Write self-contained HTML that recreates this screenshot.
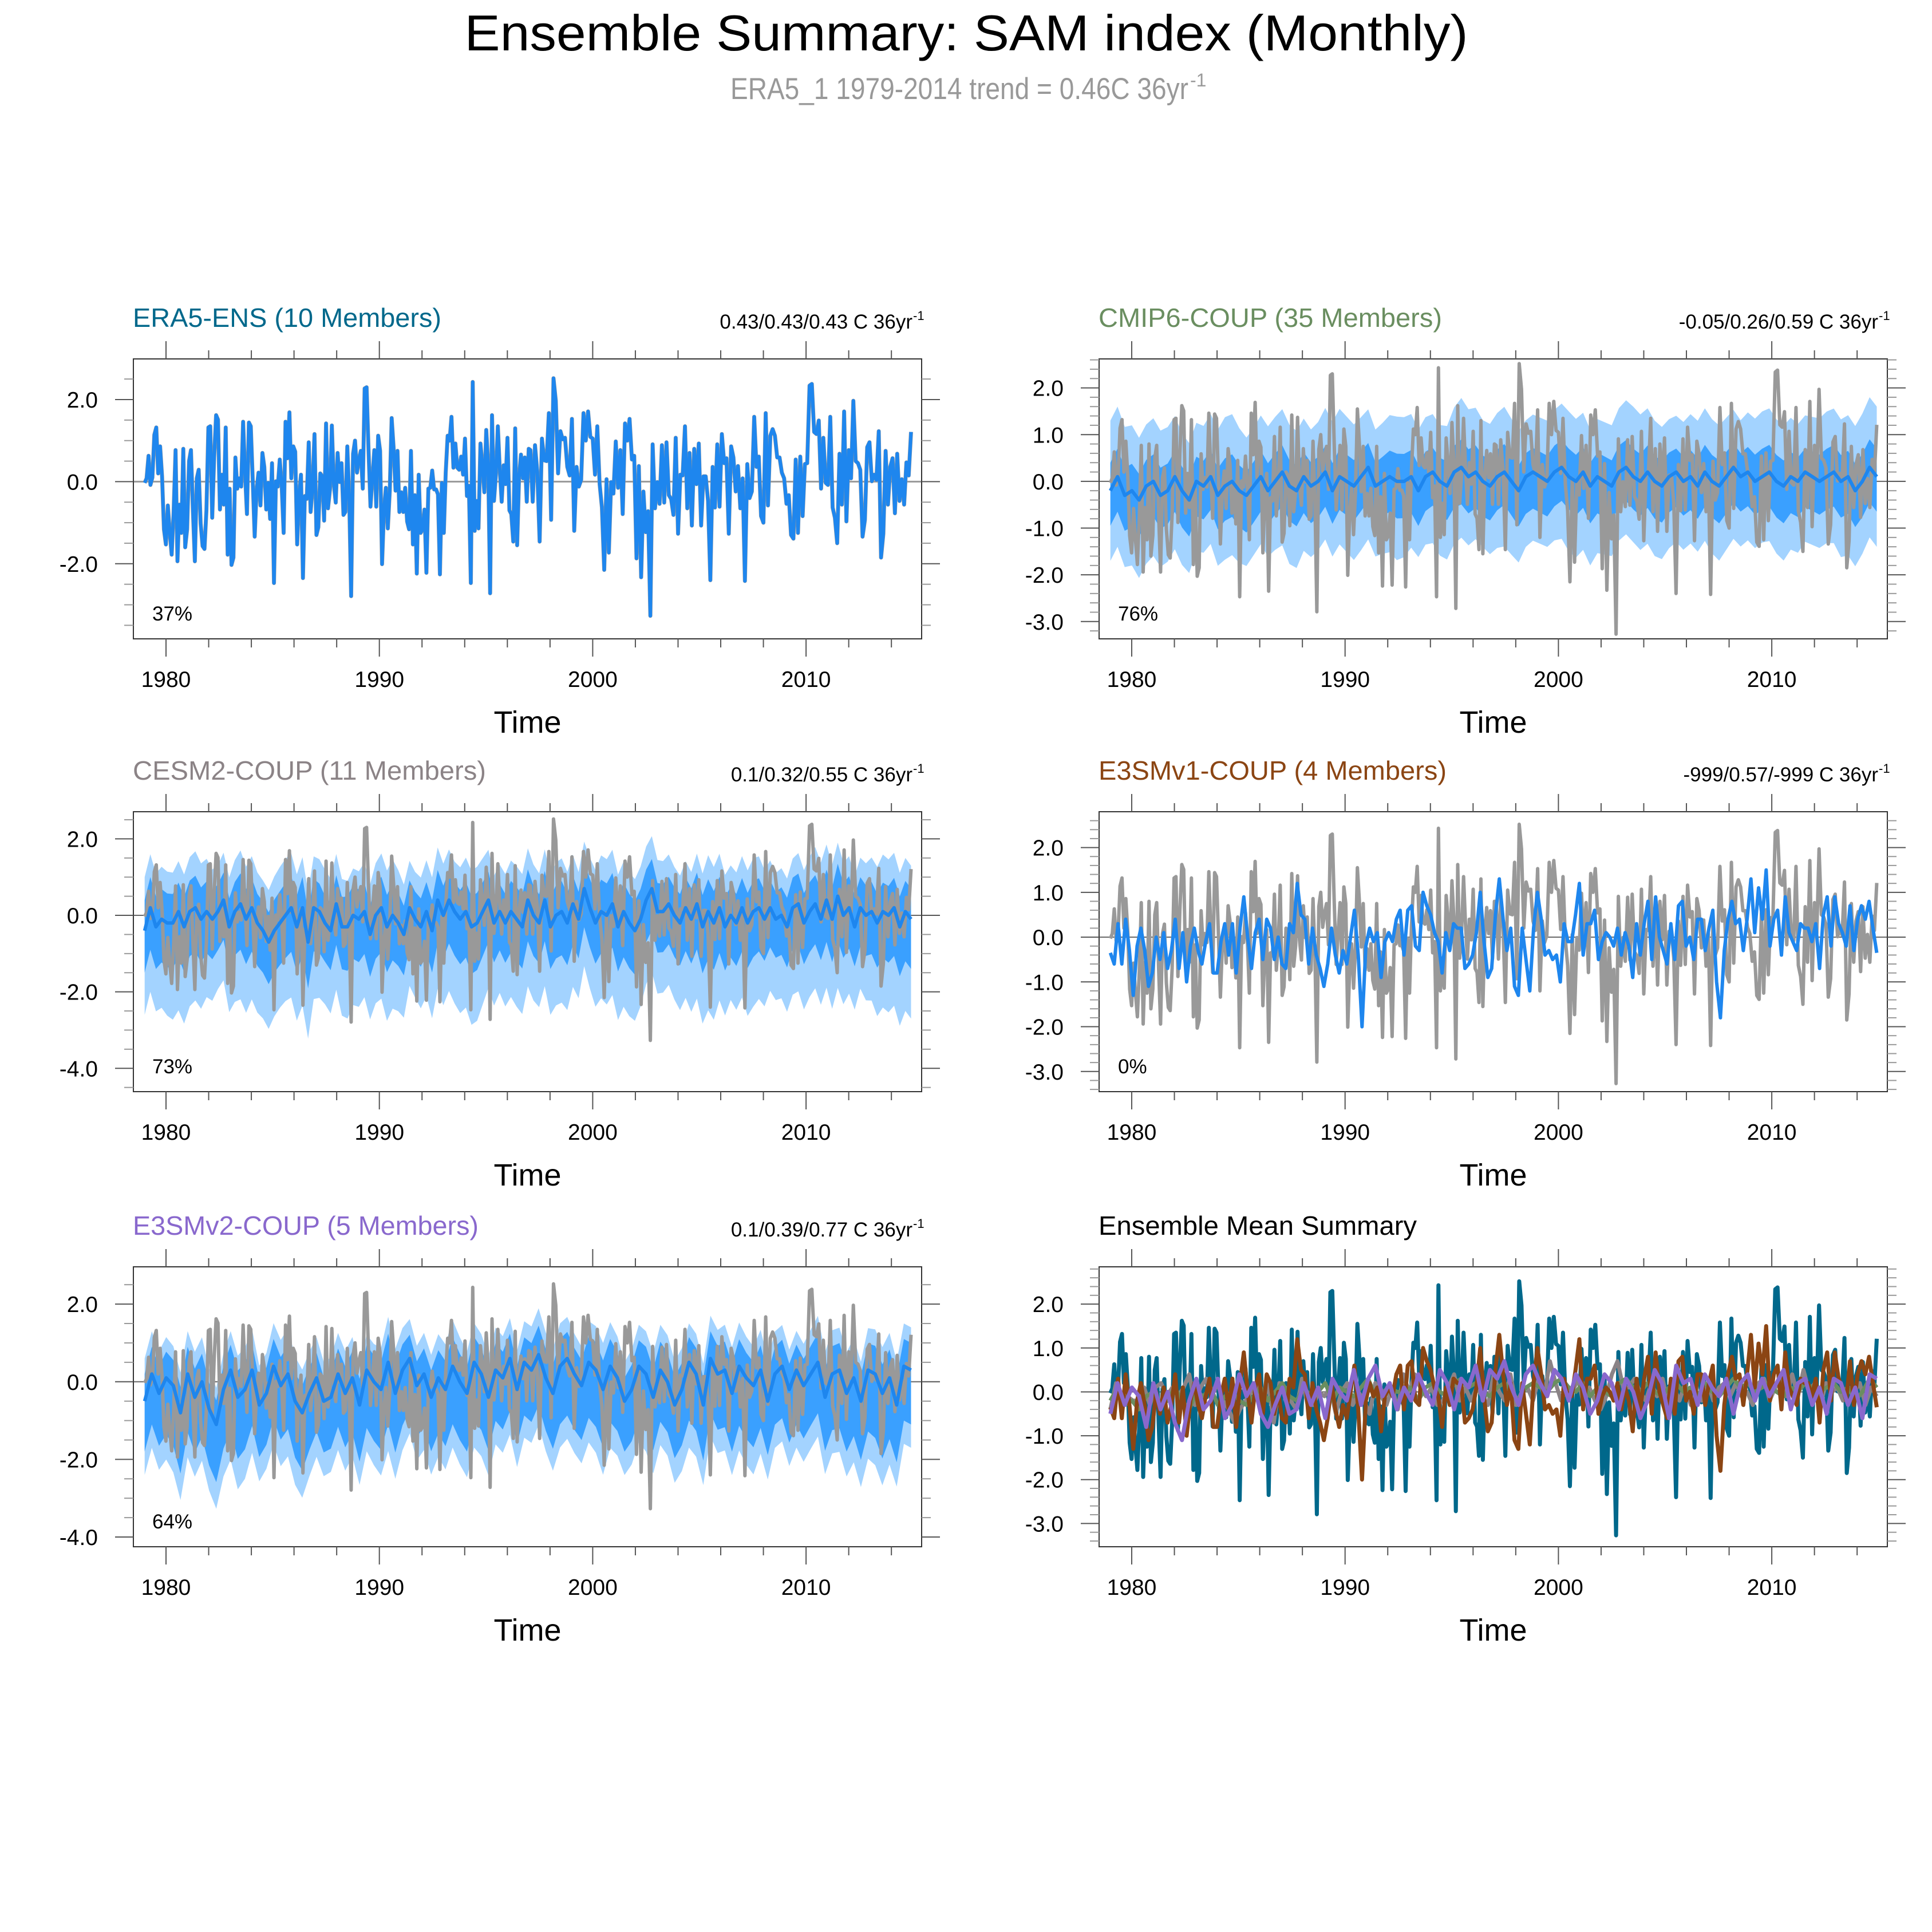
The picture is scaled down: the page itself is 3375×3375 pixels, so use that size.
<!DOCTYPE html>
<html><head><meta charset="utf-8"><title>Ensemble Summary: SAM index (Monthly)</title>
<style>html,body{margin:0;padding:0;background:#fff}svg{display:block}text{font-family:"Liberation Sans",Arial,sans-serif}</style>
</head><body>
<svg id="fig" xmlns="http://www.w3.org/2000/svg" width="3375" height="3375" viewBox="0 0 3375 3375">
<rect width="3375" height="3375" fill="#fff"/>
<text x="1688" y="88" font-size="88" text-anchor="middle" textLength="1753" lengthAdjust="spacingAndGlyphs">Ensemble Summary: SAM index (Monthly)</text>
<text x="1276" y="173" font-size="53" fill="#999" textLength="800" lengthAdjust="spacingAndGlyphs">ERA5_1 1979-2014 trend = 0.46C 36yr</text>
<text x="2079" y="151" font-size="32" fill="#999">-1</text>
</svg>
<script>
// ERA5 monthly SAM index, first part 1979.0-1997.0
const era5A = [-0.03,0.08,0.63,-0.08,0.1,1.14,1.32,0.2,0.86,0.13,-1.16,-1.53,-0.58,-1.25,-1.78,-0.74,0.77,-1.94,-0.56,-1.25,0.8,-1.6,-1.16,0.5,0.77,-0.7,-1.94,0.08,0.29,-1.02,-1.57,-1.64,-0.7,1.32,1.35,-0.88,0.59,1.62,1.51,-0.68,0.17,-0.56,1.32,-1.78,-0.17,-2.03,-1.85,0.59,-0.17,0.08,-0.12,1.46,0.22,-0.79,1.44,1.35,0.04,-1.34,-0.19,0.22,-0.58,0.7,0.36,-0.68,-0.03,-0.91,0.45,-2.47,0.01,-0.12,0.54,-0.1,-1.25,1.46,0.57,1.69,0.08,0.86,0.73,-1.53,-0.33,0.17,-2.35,-0.35,-0.42,0.96,-0.74,-0.15,1.16,-1.3,-1.11,0.2,0.13,-0.95,1.42,-0.65,-0.19,1.37,-0.06,-0.51,0.7,-0.01,0.45,-0.81,-0.74,0.86,-0.42,-2.79,0.68,1.0,0.22,0.54,0.75,-0.17,2.27,2.3,0.77,-0.61,0.08,0.77,-0.61,1.12,0.75,-2.01,-0.68,-0.15,-1.14,-0.22,1.55,0.82,-0.22,0.75,-0.74,-0.26,-0.74,-0.15,-0.97,-1.16,0.75,-1.53,-0.33,-2.24,0.17,-1.25,-1.16,-0.68,-2.22,-0.17,-0.15,0.27,-0.19,-0.19,-0.31,-2.26,-0.03,-1.25,0.22,1.12,1.0,1.58,0.34,0.93,0.34,0.29,0.61,0.17,1.05,-0.35,-0.1,-2.47,2.43,-1.2,-0.47,-1.14,0.93,0.4,-0.26,1.26,0.4,-2.72,1.62,-0.47,0.17,1.35,0.31,-0.49,0.4,-0.06,1.07,-0.7,-0.79,-1.46,1.3,-1.55,0.08,0.66,0.08,0.59,-0.49,0.8];
// ERA5 monthly SAM index, second part 1997.1-2014.9
const era5B = [0.77,-0.49,0.89,0.22,-1.46,1.05,0.52,0.5,1.67,-0.93,2.52,1.97,0.2,1.23,1.03,1.07,0.36,0.15,1.53,-1.2,0.36,-0.12,0.04,1.67,1.0,1.71,1.09,1.05,0.17,1.35,-0.06,-0.63,-2.15,0.06,-1.73,-0.01,-0.29,0.98,-0.15,0.77,-0.79,1.42,1.0,1.53,0.54,0.63,-1.87,0.38,-2.33,-0.24,-1.23,-0.72,-3.27,0.91,-0.65,-0.01,-0.54,0.89,-0.51,0.96,-0.33,-0.42,-0.81,1.07,-1.27,0.17,0.15,1.35,-0.65,0.7,-1.07,0.8,-0.06,0.93,-1.07,0.13,0.13,-0.47,-2.4,0.36,-0.63,0.91,-0.61,1.16,0.45,0.57,-1.27,0.86,0.59,-0.24,0.38,-0.65,0.08,-2.42,0.43,-0.4,-0.24,1.58,0.36,0.61,-0.84,-1.0,1.67,-0.58,1.12,1.28,1.12,0.59,0.59,0.22,0.08,-0.54,-0.33,-1.3,-1.39,0.54,-1.25,0.61,-0.84,0.43,0.45,2.34,2.38,1.21,1.16,1.49,-0.17,1.07,-0.03,-0.08,1.58,-0.63,-0.88,-1.5,0.68,-0.56,1.71,-0.97,0.77,0.08,1.97,0.5,0.45,0.29,-1.34,-0.93,0.84,0.96,0.01,0.17,0.04,1.23,-1.85,-1.27,0.75,-0.56,0.36,0.57,-0.77,0.68,-0.47,0.06,-0.56,0.47,0.15,1.21];
// CMIP6 ensemble mean (every ~4 months)
const cmip6Mean = [-0.2,0.1,-0.3,-0.2,-0.4,-0.1,0.0,-0.3,-0.2,0.1,-0.2,-0.4,0.0,-0.1,0.1,-0.3,-0.1,0.0,-0.2,-0.3,-0.1,0.1,-0.2,0.0,0.2,-0.1,-0.2,0.1,-0.1,0.0,0.2,-0.2,0.1,0.0,-0.1,0.1,0.3,-0.1,0.0,0.1,0.0,0.0,0.1,-0.2,0.1,0.2,0.0,-0.1,0.2,0.3,0.1,0.2,0.0,-0.1,0.1,0.2,0.0,-0.2,0.1,0.2,0.1,0.0,0.2,0.3,0.1,0.0,0.2,-0.1,0.1,0.0,-0.1,0.2,0.3,0.1,0.0,0.2,0.0,-0.1,0.1,0.2,0.0,0.1,-0.1,0.2,0.0,-0.1,0.1,0.3,0.1,0.2,0.0,0.1,0.2,0.0,-0.1,0.1,0.0,0.2,0.1,0.0,0.1,0.2,0.0,0.1,-0.2,0.0,0.3,0.1];
// CESM2 ensemble mean
const cesm2Mean = [-0.4,0.2,-0.3,-0.1,-0.2,-0.2,0.1,-0.3,0.1,0.2,-0.1,0.1,-0.1,0.1,0.4,-0.3,0.1,0.3,-0.1,0.2,-0.2,-0.4,-0.7,-0.4,-0.2,0.0,0.2,-0.3,0.2,-0.7,0.2,0.1,-0.2,-0.4,0.3,-0.3,-0.3,0.0,-0.1,0.1,-0.5,0.0,0.2,-0.3,0.0,-0.2,-0.5,0.2,-0.1,-0.3,0.1,-0.4,0.4,0.0,0.4,0.1,-0.1,0.1,-0.3,-0.2,0.1,0.4,-0.2,0.1,-0.2,0.1,-0.1,-0.3,0.4,0.0,-0.2,0.4,-0.3,0.0,0.1,-0.2,0.3,-0.1,0.7,0.2,-0.2,0.1,0.0,0.3,-0.3,0.1,-0.2,-0.4,-0.1,0.4,0.7,0.1,0.1,0.3,0.0,-0.2,0.2,-0.1,0.3,-0.3,0.1,-0.2,0.2,-0.3,0.0,-0.2,0.2,-0.2,0.1,0.2,-0.1,0.2,-0.1,0.0,-0.3,0.2,0.3,-0.2,0.1,0.3,-0.1,0.4,-0.1,0.5,0.0,0.2,-0.3,0.2,0.0,0.1,-0.2,0.1,0.0,0.2,-0.3,0.1,-0.1];
// E3SMv1 ensemble mean (~2 months)
const e3smv1Mean = [-0.35,-0.6,0.3,-0.6,0.4,-0.3,-1.3,-0.2,0.2,-0.3,-1.1,-0.8,0.0,-0.5,0.1,-0.7,-0.3,0.4,-0.7,0.1,-1.0,-0.2,0.2,-0.3,-0.6,-0.1,0.3,-0.8,-0.8,-0.1,0.3,-0.4,0.3,-0.8,0.2,0.9,0.0,-0.7,0.1,0.4,-0.5,0.4,0.2,-0.5,0.0,-0.6,-0.7,0.3,0.1,1.2,0.5,0.4,-0.6,0.2,-0.4,-0.7,-1.1,-0.6,0.2,-0.4,-0.8,-0.3,-0.6,0.0,0.6,-0.4,-2.0,-0.2,0.2,-0.1,0.1,-0.9,-0.1,0.1,-0.1,0.4,0.6,-0.4,0.6,0.7,-0.2,-0.3,1.0,0.7,0.5,0.1,-0.1,-0.8,0.1,-0.3,0.3,0.2,0.2,-0.7,-0.6,-0.4,0.1,1.0,-0.1,-0.9,-0.7,0.5,1.3,0.4,-0.3,0.2,-1.1,-1.3,0.2,-0.5,-1.2,0.2,1.0,0.4,-0.4,-0.3,-0.5,-0.4,-1.0,0.3,-0.1,-0.1,0.5,1.2,-0.4,0.3,0.3,0.6,-0.5,-0.1,0.1,0.0,-0.2,0.2,-0.4,0.1,-0.2,-0.9,0.3,-0.4,0.3,0.8,-0.5,0.9,0.0,-0.3,-0.6,0.3,-0.5,0.7,0.8,-0.2,0.0,-0.5,0.4,0.4,-0.3,0.2,0.6,-1.0,-1.8,-0.3,0.4,0.8,0.3,0.4,-0.3,0.4,1.3,0.1,1.1,0.4,1.5,-0.2,0.4,0.6,-0.4,0.9,0.1,-0.1,-0.3,0.3,0.2,0.2,-0.1,0.3,-0.7,0.5,0.9,-0.2,0.9,0.3,0.1,-0.2,0.7,-0.3,0.4,0.7,0.4,0.8,0.2,-0.35];
// E3SMv2 ensemble mean
const e3smv2Mean = [-0.5,0.2,-0.3,0.1,-0.1,-0.8,0.2,-0.4,0.0,-0.7,-1.1,-0.2,0.3,-0.4,-0.2,0.3,-0.6,-0.3,0.4,-0.1,0.2,-0.5,-0.8,-0.3,0.1,-0.5,-0.4,0.2,-0.3,0.1,-0.6,0.3,0.0,-0.2,0.5,-0.3,0.3,0.6,-0.1,0.2,-0.4,0.1,-0.2,0.4,0.0,-0.3,0.5,0.2,-0.4,0.3,0.1,0.6,-0.2,0.5,0.3,0.7,0.1,-0.3,0.4,0.6,0.2,-0.1,0.5,0.3,-0.2,0.4,0.1,-0.5,-0.2,0.4,0.2,-0.4,0.3,0.0,-0.6,-0.2,0.5,0.2,-0.6,0.6,0.2,0.3,-0.3,0.4,0.1,-0.1,0.3,-0.5,0.2,0.4,-0.2,0.3,-0.1,0.2,0.5,-0.4,0.2,0.3,-0.3,0.1,-0.5,0.3,0.2,-0.3,0.1,-0.6,0.4,0.3];
// Ensemble spread offsets from the mean (yearly, 1979-2014)
const cmip6OuterUp = [1.5,1.3,1.4,1.2,1.3,1.5,1.2,1.4,1.3,1.2,1.5,1.3,1.2,1.4,1.3,1.2,1.5,1.3,1.4,1.2,1.3,1.4,1.2,1.3,1.5,1.3,1.2,1.4,1.3,1.2,1.4,1.3,1.2,1.4,1.3,1.5];
const cmip6OuterDn = [1.5,1.7,1.5,1.6,1.4,1.6,1.5,1.4,1.7,1.5,1.4,1.6,1.5,1.7,1.4,1.6,1.5,1.4,1.6,1.5,1.4,1.6,1.7,1.5,1.4,1.6,1.5,1.4,1.6,1.5,1.4,1.6,1.5,1.4,1.7,1.5];
const cmip6InnerUp = [0.6,0.55,0.6,0.5,0.55,0.6,0.5,0.6,0.55,0.5,0.6,0.55,0.5,0.6,0.55,0.5,0.6,0.55,0.6,0.5,0.55,0.6,0.5,0.55,0.6,0.55,0.5,0.6,0.55,0.5,0.6,0.55,0.5,0.6,0.55,0.6];
const cmip6InnerDn = [0.75,0.8,0.7,0.8,0.7,0.75,0.8,0.7,0.75,0.8,0.7,0.75,0.7,0.8,0.75,0.7,0.8,0.75,0.7,0.8,0.75,0.7,0.8,0.75,0.7,0.8,0.75,0.7,0.8,0.75,0.7,0.8,0.75,0.7,0.8,0.75];
const cesm2OuterUp = [1.4,1.3,1.5,1.2,1.4,1.3,1.5,1.3,1.4,1.2,1.3,1.5,1.2,1.4,1.3,1.5,1.2,1.4,1.3,1.4,1.2,1.5,1.3,1.4,1.3,1.2,1.5,1.3,1.4,1.2,1.3,1.5,1.4,1.3,1.5,1.4];
const cesm2OuterDn = [2.2,2.6,2.4,2.0,2.5,2.3,2.2,2.6,2.1,2.4,2.2,2.5,2.0,2.3,2.4,2.6,2.1,2.3,2.2,2.4,2.0,2.3,2.5,2.2,2.1,2.4,2.6,2.2,2.5,2.1,2.3,2.2,2.4,2.1,2.5,2.6];
const cesm2InnerUp = [0.8,0.75,0.85,0.7,0.8,0.75,0.85,0.8,0.7,0.8,0.75,0.85,0.7,0.8,0.75,0.8,0.7,0.85,0.75,0.8,0.7,0.85,0.75,0.8,0.7,0.8,0.85,0.75,0.8,0.7,0.8,0.75,0.85,0.8,0.75,0.8];
const cesm2InnerDn = [1.1,1.2,1.15,1.0,1.2,1.1,1.1,1.25,1.0,1.15,1.1,1.2,1.0,1.1,1.15,1.25,1.0,1.1,1.05,1.15,1.0,1.1,1.2,1.1,1.05,1.15,1.25,1.1,1.2,1.0,1.1,1.05,1.15,1.0,1.2,1.3];
const e3smv2OuterUp = [1.1,1.0,1.2,0.9,1.1,1.0,1.2,1.1,1.0,1.1,0.9,1.2,1.0,1.1,1.2,1.0,1.1,1.0,1.2,1.1,1.0,1.2,1.0,1.1,1.2,1.0,1.1,1.2,1.0,1.1,1.0,1.2,1.1,1.0,1.2,1.1];
const e3smv2OuterDn = [1.9,2.3,2.0,2.2,2.4,1.9,2.1,2.2,1.9,2.0,2.1,2.3,1.9,2.0,2.1,2.2,1.9,2.0,1.8,2.1,2.0,2.2,1.9,2.0,1.9,2.2,2.0,2.1,2.3,1.9,2.0,1.9,2.1,2.2,2.4,2.0];
const e3smv2InnerUp = [0.7,0.65,0.75,0.6,0.7,0.65,0.75,0.7,0.6,0.7,0.65,0.75,0.6,0.7,0.75,0.65,0.7,0.6,0.75,0.7,0.65,0.75,0.6,0.7,0.75,0.65,0.7,0.75,0.6,0.7,0.65,0.75,0.7,0.65,0.75,0.7];
const e3smv2InnerDn = [1.3,1.6,1.4,1.5,1.6,1.3,1.4,1.5,1.3,1.4,1.5,1.6,1.3,1.4,1.5,1.5,1.3,1.4,1.3,1.5,1.4,1.5,1.3,1.4,1.3,1.5,1.4,1.5,1.6,1.3,1.4,1.3,1.5,1.5,1.7,1.4];
// Axis tick labels
const xTickYears = [1980,1990,2000,2010];
const trendLabels = ["0.43/0.43/0.43 C 36yr","-0.05/0.26/0.59 C 36yr","0.1/0.32/0.55 C 36yr","-999/0.57/-999 C 36yr","0.1/0.39/0.77 C 36yr",""];
const pctLabels = ["37%","76%","73%","0%","64%",""];

const NS = "http://www.w3.org/2000/svg";
const svg = document.getElementById('fig');
function mk(tag, attrs, parent) {
  const e = document.createElementNS(NS, tag);
  for (const k in attrs) e.setAttribute(k, attrs[k]);
  (parent || svg).appendChild(e);
  return e;
}
const panels = [
  {x0:233, y0:627, ymax:2.99, ymin:-3.83, major:2, minor:0.5, title:"ERA5-ENS (10 Members)", tcol:"#00688B", tlen:539, name:"era5-ens"},
  {x0:1920, y0:627, ymax:2.62, ymin:-3.37, major:1, minor:0.2, title:"CMIP6-COUP (35 Members)", tcol:"#6A8E60", tlen:600, name:"cmip6-coup"},
  {x0:233, y0:1418, ymax:2.71, ymin:-4.61, major:2, minor:0.5, title:"CESM2-COUP (11 Members)", tcol:"#8B8386", tlen:617, name:"cesm2-coup"},
  {x0:1920, y0:1418, ymax:2.80, ymin:-3.45, major:1, minor:0.2, title:"E3SMv1-COUP (4 Members)", tcol:"#8B4513", tlen:608, name:"e3smv1-coup"},
  {x0:233, y0:2213, ymax:2.96, ymin:-4.25, major:2, minor:0.5, title:"E3SMv2-COUP (5 Members)", tcol:"#8968CD", tlen:604, name:"e3smv2-coup"},
  {x0:1920, y0:2213, ymax:2.85, ymin:-3.53, major:1, minor:0.2, title:"Ensemble Mean Summary", tcol:"#000", tlen:556, name:"ensemble-mean-summary"}
];
const W = 1377, H = 489, PXYR = 37.27, OFF1980 = 57;

function spanTimes(n, t0, t1) { const a = []; for (let i = 0; i < n; i++) a.push(t0 + i * (t1 - t0) / (n - 1)); return a; }
const era5 = era5A.concat(era5B);
const era5T = spanTimes(era5A.length, 1979.0, 1997.0).concat(spanTimes(era5B.length, 1997.08, 2014.92));

function drawPanel(p, idx) {
  const g = mk('g', {});
  
  
  const X = yr => p.x0 + OFF1980 + (yr - 1980) * PXYR;
  const Y = v => p.y0 + (p.ymax - v) / (p.ymax - p.ymin) * H;
  const clipId = 'clip' + idx;
  const cp = mk('clipPath', {id: clipId}, g);
  mk('rect', {x:p.x0, y:p.y0, width:W, height:H}, cp);
  const plot = mk('g', {'clip-path':'url(#' + clipId + ')'}, g);
  
  

  function seriesPath(arr, col, w, nm, times) {
    const n = arr.length; let d = '';
    arr.forEach((v, i) => {
      const t = times ? times[i] : 1979 + i * 35.92 / (n - 1);
      d += (i ? 'L' : 'M') + X(t).toFixed(1) + ' ' + Y(v).toFixed(1);
    });
    const e = mk('path', {d:d, fill:'none', stroke:col, 'stroke-width':w, 'stroke-linejoin':'round'}, plot);
    
    
    return e;
  }
  function offAt(arr, t) {
    const f = Math.max(0, Math.min(arr.length - 1, t - 0.5));
    const i = Math.floor(f), fr = f - i;
    return arr[i] + (arr[Math.min(i + 1, arr.length - 1)] - arr[i]) * fr;
  }
  function band(mean, up, dn, col, nm) {
    const n = mean.length; const top = [], bot = [];
    mean.forEach((v, i) => {
      const t = i * 35.92 / (n - 1);
      top.push([X(1979 + t), Y(v + offAt(up, t))]);
      bot.push([X(1979 + t), Y(v - offAt(dn, t))]);
    });
    let d = 'M' + top.map(q => q[0].toFixed(1) + ' ' + q[1].toFixed(1)).join('L');
    d += 'L' + bot.reverse().map(q => q[0].toFixed(1) + ' ' + q[1].toFixed(1)).join('L') + 'Z';
    const e = mk('path', {d:d, fill:col, stroke:'none'}, plot);
    
    
  }
  const zl = mk('line', {x1:p.x0, x2:p.x0 + W, y1:Y(0), y2:Y(0), stroke: idx === 0 ? '#999' : '#666', 'stroke-width': idx === 0 ? 3 : 2}, plot);
  
  

  const bands = {1:[cmip6Mean, cmip6OuterUp, cmip6OuterDn, cmip6InnerUp, cmip6InnerDn],
                 2:[cesm2Mean, cesm2OuterUp, cesm2OuterDn, cesm2InnerUp, cesm2InnerDn],
                 4:[e3smv2Mean, e3smv2OuterUp, e3smv2OuterDn, e3smv2InnerUp, e3smv2InnerDn]};
  const means = {1:cmip6Mean, 2:cesm2Mean, 3:e3smv1Mean, 4:e3smv2Mean};
  if (idx === 0) {
    seriesPath(era5, '#999', 7, 'era5-grey-line', era5T);
    seriesPath(era5, '#1E86EE', 6, 'era5-ensemble-mean-line', era5T);
  } else if (idx === 5) {
    seriesPath(era5, '#00688B', 7, 'era5-line', era5T);
    seriesPath(cesm2Mean, '#8B8386', 7, 'cesm2-mean-line');
    seriesPath(cmip6Mean, '#6A8E60', 7, 'cmip6-mean-line');
    seriesPath(e3smv1Mean, '#8B4513', 7, 'e3smv1-mean-line');
    seriesPath(e3smv2Mean, '#8968CD', 7, 'e3smv2-mean-line');
  } else {
    if (bands[idx]) {
      const b = bands[idx];
      band(b[0], b[1], b[2], '#A3D3FF', 'ensemble-range-band');
      band(b[0], b[3], b[4], '#3AA0FF', 'ensemble-spread-band');
    }
    seriesPath(era5, '#999', 6, 'era5-grey-line', era5T);
    seriesPath(means[idx], '#1E86EE', 6, 'ensemble-mean-line');
  }
  const fr = mk('rect', {x:p.x0, y:p.y0, width:W, height:H, fill:'none', stroke:'#333', 'stroke-width':2}, g);
  
  
  for (let yr = 1980; yr <= 2014; yr += 2) {
    const isMaj = yr % 10 === 0, L = isMaj ? 31 : 15, x = X(yr);
    mk('line', {x1:x, x2:x, y1:p.y0, y2:p.y0 - L, stroke:'#555', 'stroke-width':2}, g);
    mk('line', {x1:x, x2:x, y1:p.y0 + H, y2:p.y0 + H + L, stroke:'#555', 'stroke-width':2}, g);
  }
  xTickYears.forEach(yr => {
    const t = mk('text', {x:X(yr), y:p.y0 + H + 84, 'font-size':39, 'text-anchor':'middle'}, g);
    
    
    t.textContent = String(yr);
  });
  const nMin = Math.round(p.major / p.minor);
  for (let k = Math.ceil(p.ymin / p.minor); k <= Math.floor(p.ymax / p.minor); k++) {
    const v = k * p.minor, isMaj = (k % nMin) === 0, L = isMaj ? 32 : 16, y = Y(v);
    mk('line', {x1:p.x0, x2:p.x0 - L, y1:y, y2:y, stroke: isMaj ? '#555' : '#999', 'stroke-width':2}, g);
    mk('line', {x1:p.x0 + W, x2:p.x0 + W + L, y1:y, y2:y, stroke: isMaj ? '#555' : '#999', 'stroke-width':2}, g);
    if (isMaj) {
      const t = mk('text', {x:p.x0 - 62, y:y + 14, 'font-size':39, 'text-anchor':'end'}, g);
      
      
      t.textContent = v.toFixed(1);
    }
  }
  const xt = mk('text', {x:p.x0 + W / 2, y:p.y0 + H + 164, 'font-size':54, 'text-anchor':'middle'}, g);
  
  
  xt.textContent = 'Time';
  const pt = mk('text', {x:p.x0 - 1, y:p.y0 - 56, 'font-size':46, fill:p.tcol, textLength:p.tlen, lengthAdjust:'spacingAndGlyphs'}, g);
  
  
  pt.textContent = p.title;
  if (trendLabels[idx]) {
    const tr = mk('text', {x:p.x0 + W - 16, y:p.y0 - 53, 'font-size':35, 'text-anchor':'end'}, g);
    
    
    tr.textContent = trendLabels[idx];
    const sup = mk('text', {x:p.x0 + W - 15, y:p.y0 - 68, 'font-size':22}, g);
    
    
    sup.textContent = '-1';
  }
  if (pctLabels[idx]) {
    const pc = mk('text', {x:p.x0 + 33, y:p.y0 + H - 32, 'font-size':35}, g);
    
    
    pc.textContent = pctLabels[idx];
  }
}
panels.forEach(drawPanel);
</script>
</body></html>
